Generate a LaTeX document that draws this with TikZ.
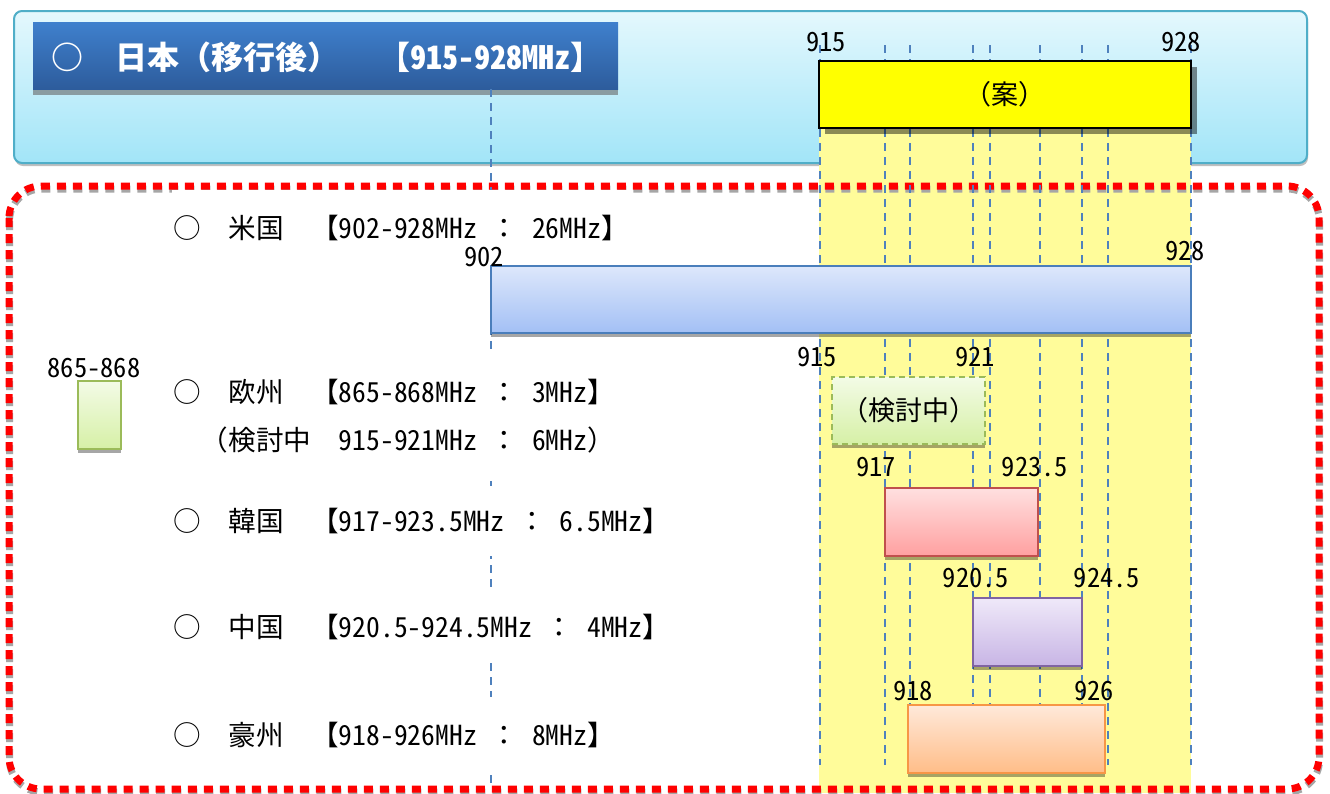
\documentclass[tikz,border=0pt]{standalone}
\usepackage{fontspec}
\setmainfont{Noto Sans CJK JP}
\newfontfamily\hw{Noto Sans CJK JP}[RawFeature=+hwid]
\usetikzlibrary{shadows}
\newcommand\fsz[1]{\fontsize{#1}{#1}\selectfont}
\newcommand\hwt[1]{{\hw #1}}
\newcommand\hs{\hspace{0.5em}}
\definecolor{cyantop}{HTML}{E4F8FD}
\definecolor{cyanbot}{HTML}{A2E5F8}
\definecolor{cyanline}{HTML}{4FAEC8}
\definecolor{hdrtop}{HTML}{3F80CD}
\definecolor{hdrbot}{HTML}{2D5C9C}
\definecolor{bandyel}{HTML}{FFFC9A}
\definecolor{gridblue}{HTML}{4F81BD}
\definecolor{ustop}{HTML}{DDE7FB}
\definecolor{usbot}{HTML}{A3C0F5}
\definecolor{usline}{HTML}{4A7EBB}
\definecolor{eutop}{HTML}{F3FBE6}
\definecolor{eubot}{HTML}{D6F0A6}
\definecolor{euline}{HTML}{9BBB59}
\definecolor{krtop}{HTML}{FFE0E0}
\definecolor{krbot}{HTML}{FFA0A0}
\definecolor{krline}{HTML}{C0504D}
\definecolor{cntop}{HTML}{EFE9F9}
\definecolor{cnbot}{HTML}{C8B5E5}
\definecolor{cnline}{HTML}{8064A2}
\definecolor{autop}{HTML}{FFE9DA}
\definecolor{aubot}{HTML}{FFBD88}
\definecolor{auline}{HTML}{F79646}
\definecolor{dotred}{HTML}{FF0000}
\definecolor{planyel}{HTML}{FFFF00}
\begin{document}
\begin{tikzpicture}[x=1pt,y=-1pt,
  barsh/.style={drop shadow={shadow xshift=0pt, shadow yshift=-4pt, fill=black, opacity=0.35}},
  fbar/.style={draw, line width=1.6pt, barsh, inner sep=0pt, font=\fsz{27}},
  gridline/.style={draw=gridblue, line width=1.2pt, dash pattern=on 8pt off 6pt},
  num/.style={font=\hw\fsz{26.5}, inner sep=0pt},
  rowlbl/.style={anchor=west, fill=white, inner xsep=1pt, inner ysep=0pt, align=left, font=\fontsize{27.6}{48}\selectfont},
  redborder/.style={draw=dotred, line width=7pt, dash pattern=on 9pt off 7pt, rounded corners=32pt},
  redshade/.style={draw=black!35, line width=7pt, dash pattern=on 9pt off 7pt, rounded corners=32pt}
]
\useasboundingbox (0,0) rectangle (1330,793);
\fill[white] (0,0) rectangle (1330,793);

% top (Japan) panel
\node[draw=cyanline, line width=2pt, rounded corners=8pt, top color=cyantop, bottom color=cyanbot,
      minimum width=1293pt, minimum height=152pt, inner sep=0pt,
      drop shadow={shadow xshift=1pt, shadow yshift=-3pt, fill=black, opacity=0.25}] (jpbg) at (660.5,87) {};
\node[top color=hdrtop, bottom color=hdrbot, minimum width=585pt, minimum height=67pt, inner sep=0pt,
      drop shadow={shadow xshift=0pt, shadow yshift=-6pt, fill=black!60, opacity=0.6}] (hdr) at (325.5,55.5) {};
\node[anchor=west, text=white, font=\bfseries\fsz{32}, inner sep=0pt] (hdrtxt) at (51,57)
  {○　日本（移行後）　\hspace{7pt}【\hwt{915-928MHz}】};

% pale yellow band
\fill[bandyel] (819,128) rectangle (1191,793);

% red dotted frame
\draw[redshade] (9.5,189) rectangle (1319.5,792);
\draw[redborder] (9,186) rectangle (1319,789);

% dashed grid lines
\foreach \x in {820,885,910,973,990,1040,1082,1108,1191}
  \draw[gridline] (\x,45) -- (\x,765);
\draw[gridline] (491,89) -- (491,787);

% proposal box
\node[draw=black, line width=2pt, fill=planyel, minimum width=372pt, minimum height=67pt, inner sep=0pt,
      drop shadow={shadow xshift=6pt, shadow yshift=-6pt, fill=black, opacity=0.45}, font=\fsz{27}] (plan) at (1005,94.5) {（案）};
\node[num] (p915) at (826,42) {915};
\node[num] (p928) at (1181,42) {928};

% row labels
\node[rowlbl, minimum height=76pt] (uslbl) at (172,228)
  {○　米国　【\hwt{902-928MHz}\hs{}：\hs{}\hwt{26MHz}】};
\node[rowlbl, minimum height=122pt] (eulbl) at (172,416)
  {○　欧州　【\hwt{865-868MHz}\hs{}：\hs{}\hwt{3MHz}】\\　（検討中　\hwt{915-921MHz}\hs{}：\hs{}\hwt{6MHz}）};
\node[rowlbl, minimum height=70pt] (krlbl) at (172,521)
  {○　韓国　【\hwt{917-923.5MHz}\hs{}：\hs{}\hwt{6.5MHz}】};
\node[rowlbl, minimum height=70pt] (cnlbl) at (172,627)
  {○　中国　【\hwt{920.5-924.5MHz}\hs{}：\hs{}\hwt{4MHz}】};
\node[rowlbl, minimum height=76pt] (aulbl) at (172,735)
  {○　豪州　【\hwt{918-926MHz}\hs{}：\hs{}\hwt{8MHz}】};

% bars
\node[fbar, draw=usline, top color=ustop, bottom color=usbot, minimum width=700pt, minimum height=67pt] (us) at (841,299.5) {};
\node[fbar, draw=euline, top color=eutop, bottom color=eubot, minimum width=43pt, minimum height=68pt] (eu) at (99.5,415) {};
\node[fbar, draw=euline, dash pattern=on 6pt off 4pt, top color=eutop, bottom color=eubot, minimum width=153pt, minimum height=67pt] (eun) at (908.5,410.5) {（検討中）};
\node[fbar, draw=krline, top color=krtop, bottom color=krbot, minimum width=153pt, minimum height=68pt] (kr) at (961.5,522) {};
\node[fbar, draw=cnline, top color=cntop, bottom color=cnbot, minimum width=109pt, minimum height=68pt] (cn) at (1027.5,632) {};
\node[fbar, draw=auline, top color=autop, bottom color=aubot, minimum width=197pt, minimum height=68pt] (au) at (1006.5,739) {};

% frequency labels
\node[num] (us902) at (484,257) {902};
\node[num] (us928) at (1185,251) {928};
\node[num] (eu865) at (94,368) {865-868};
\node[num] (eu915) at (817,357) {915};
\node[num] (eu921) at (975,357) {921};
\node[num] (kr917) at (876,467) {917};
\node[num] (kr923) at (1035,467) {923.5};
\node[num] (cn920) at (976,578) {920.5};
\node[num] (cn924) at (1107,578) {924.5};
\node[num] (au918) at (913,691) {918};
\node[num] (au926) at (1094,691) {926};
\end{tikzpicture}
\end{document}
